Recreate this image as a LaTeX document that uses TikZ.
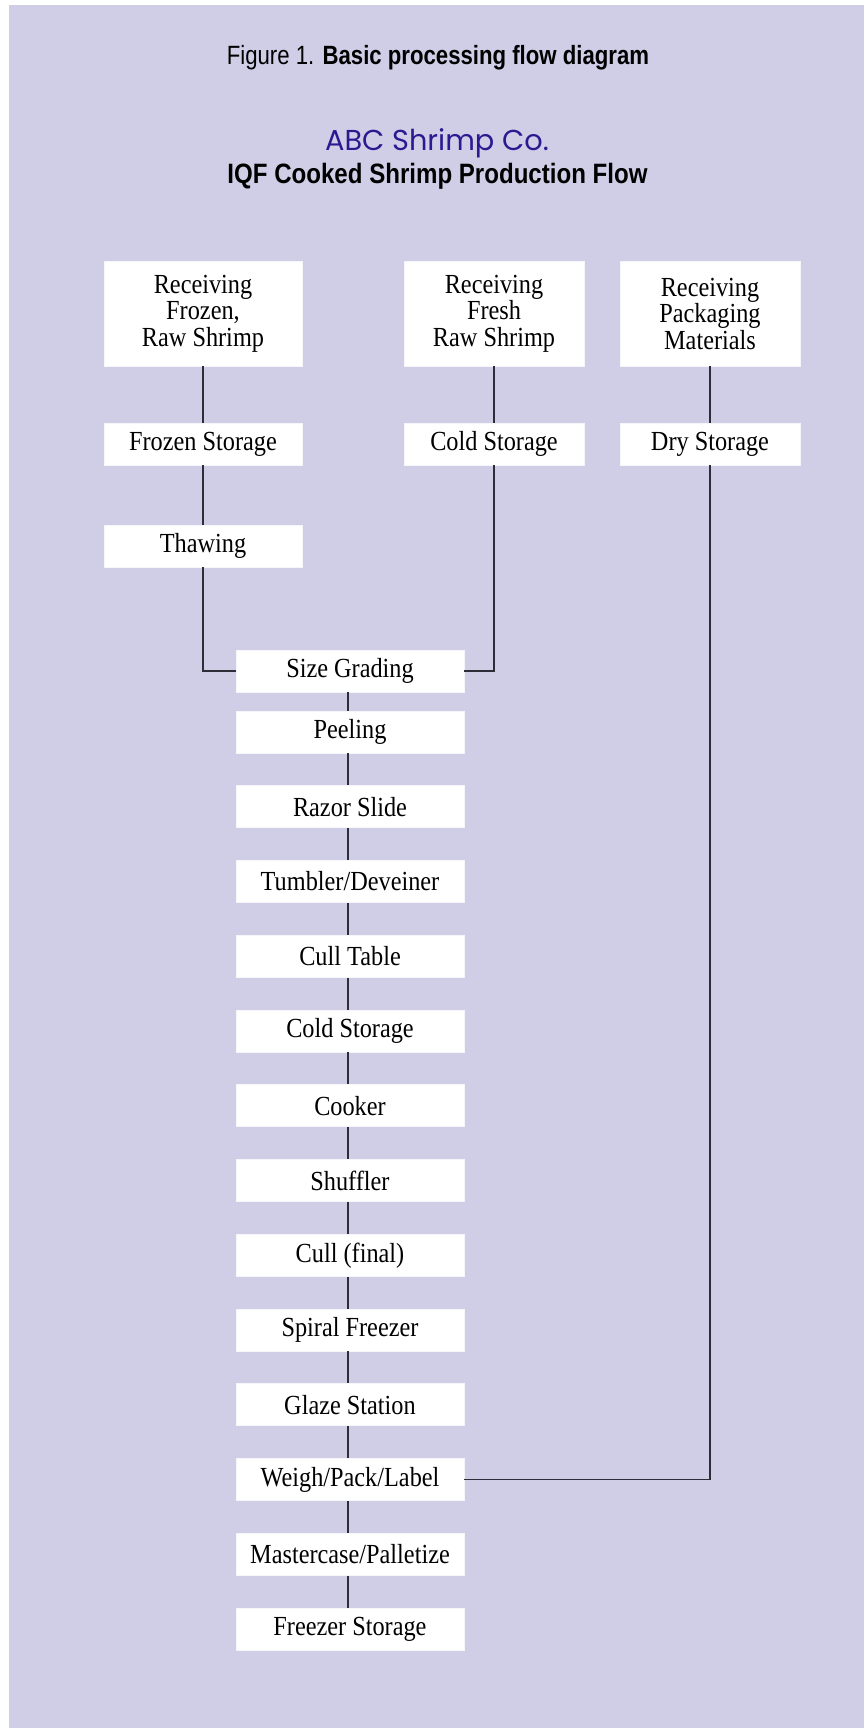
\documentclass[tikz,border=0pt]{standalone}
\usepackage{fontspec}
\setmainfont{Liberation Serif}
\newfontfamily\boxfont[FakeStretch=0.88]{Liberation Serif}
\newfontfamily\headfont[FakeStretch=0.86]{Liberation Sans}
\newfontfamily\figfont[FakeStretch=0.84]{Liberation Sans}
\newfontfamily\cofont{Poppins}
\definecolor{panel}{RGB}{208,205,230}
\definecolor{coblue}{RGB}{43,25,145}
\definecolor{wire}{RGB}{45,45,55}
\begin{document}
\begin{tikzpicture}[x=0.5pt,y=-0.5pt,
  box/.style={fill=white,draw=white!80!panel,line width=0.4pt,inner sep=0pt,align=center,
    font=\boxfont\fontsize{13.8pt}{13.25pt}\selectfont},
  widebox/.style={box,minimum width=99pt},
  sidebox/.style={box,minimum width=90pt},
  mainbox/.style={box,minimum width=114pt,minimum height=21pt},
  recv/.style={minimum height=52.5pt},
  store/.style={minimum height=21pt},
  link/.style={draw=wire,line width=0.75pt}]
% page and panel
\useasboundingbox (0,0) rectangle (867,1728);
\fill[white] (0,0) rectangle (867,1728);
\fill[panel] (9,5) rectangle (864,1728);

% headings
\node (fig) at (438,58) {\figfont\fontsize{13.2pt}{15pt}\selectfont Figure 1. \bfseries Basic processing flow diagram};
\node[text=coblue] (co) at (437,143) {\cofont\fontsize{14.4pt}{16pt}\selectfont ABC Shrimp Co.};
\node (ttl) at (437.5,176) {\headfont\bfseries\fontsize{14pt}{16pt}\selectfont IQF Cooked Shrimp Production Flow};

% incoming streams
\node[widebox,recv] (recFrozen) at (203,313.5) {Receiving\\Frozen,\\Raw Shrimp};
\node[sidebox,recv] (recFresh) at (494,313.5) {Receiving\\Fresh\\Raw Shrimp};
\node[sidebox,recv] (recPack) at (710,313.5) {Receiving\\Packaging\\Materials};
\node[widebox,store] (frozenSt) at (203,444) {Frozen Storage};
\node[sidebox,store] (coldSt) at (494,444) {Cold Storage};
\node[sidebox,store] (drySt) at (710,444) {Dry Storage};
\node[widebox,store] (thaw) at (203,546) {Thawing};

% main processing line
\node[mainbox] (sizeGr) at (350,671) {Size Grading};
\node[mainbox] (peel) at (350,732) {Peeling};
\node[mainbox] (razor) at (350,806.75) {Razor Slide};
\node[mainbox] (tumble) at (350,881.5) {Tumbler/Deveiner};
\node[mainbox] (cull) at (350,956.25) {Cull Table};
\node[mainbox] (coldSt2) at (350,1031) {Cold Storage};
\node[mainbox] (cook) at (350,1105.75) {Cooker};
\node[mainbox] (shuf) at (350,1180.5) {Shuffler};
\node[mainbox] (cullF) at (350,1255.25) {Cull (final)};
\node[mainbox] (spiral) at (350,1330) {Spiral Freezer};
\node[mainbox] (glaze) at (350,1404.75) {Glaze Station};
\node[mainbox] (weigh) at (350,1479.5) {Weigh/Pack/Label};
\node[mainbox] (master) at (350,1554.25) {Mastercase/Palletize};
\node[mainbox] (freezer) at (350,1629) {Freezer Storage};

% connectors
\draw[link] (recFrozen) -- (frozenSt);
\draw[link] (frozenSt) -- (thaw);
\draw[link] (thaw.south) |- (sizeGr.west);
\draw[link] (recFresh) -- (coldSt);
\draw[link] (coldSt.south) |- (sizeGr.east);
\draw[link] (recPack) -- (drySt);
\draw[link] (drySt.south) |- (weigh.east);
\foreach \a/\b in {sizeGr/peel,peel/razor,razor/tumble,tumble/cull,cull/coldSt2,
  coldSt2/cook,cook/shuf,shuf/cullF,cullF/spiral,spiral/glaze,glaze/weigh,
  weigh/master,master/freezer}
  \draw[link] ([xshift=-1]\a.south) -- ([xshift=-1]\b.north);
\end{tikzpicture}
\end{document}
